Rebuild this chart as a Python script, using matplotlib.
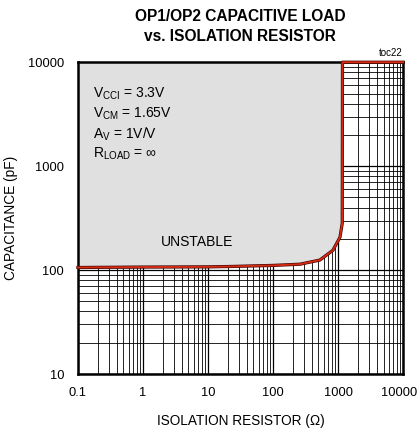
import matplotlib
matplotlib.use('Agg')
import matplotlib.pyplot as plt
import matplotlib.ticker as ticker
import matplotlib.transforms as mtransforms

plt.rcParams['font.family'] = ['Liberation Sans', 'DejaVu Sans']
plt.rcParams['mathtext.fontset'] = 'custom'
plt.rcParams['mathtext.rm'] = 'Liberation Sans'

# stability boundary
r_iso = [0.1, 1, 10, 24, 100, 260, 525, 832, 1070, 1160, 1170, 10000]
c_load = [106, 107, 107.5, 108.5, 111, 114, 125, 155, 207, 282, 10000, 10000]

x_ticks = [0.1, 1, 10, 100, 1000, 10000]
x_labels = ['0.1', '1', '10', '100', '1000', '10000']
y_ticks = [10, 100, 1000, 10000]
y_labels = ['10', '100', '1000', '10000']

fig = plt.figure(figsize=(4.19, 4.29), dpi=100)
ax = fig.add_axes([0.186, 0.128, 0.776, 0.727])
ax.set_xscale('log')
ax.set_yscale('log')
ax.set_xlim(0.1, 10000)
ax.set_ylim(10, 10000)

ax.set_xticks(x_ticks)
ax.set_xticklabels(x_labels)
ax.set_yticks(y_ticks)
ax.set_yticklabels(y_labels)
ax.xaxis.set_minor_locator(ticker.LogLocator(base=10, subs=range(2, 10)))
ax.yaxis.set_minor_locator(ticker.LogLocator(base=10, subs=range(2, 10)))
ax.xaxis.set_minor_formatter(ticker.NullFormatter())
ax.yaxis.set_minor_formatter(ticker.NullFormatter())
ax.tick_params(which='both', length=0, labelsize=9.3)
ax.tick_params(axis='x', pad=9)
ax.tick_params(axis='y', pad=10)

# keep the last x label inside the figure
last = ax.get_xticklabels()[-1]
last.set_transform(last.get_transform() + mtransforms.ScaledTranslation(-4 / 100, 0, fig.dpi_scale_trans))

ax.grid(which='major', color='black', lw=0.9, zorder=1)
ax.grid(which='minor', color='black', lw=0.6, zorder=1)
ax.set_axisbelow(True)

# unstable region
ax.fill_between(r_iso, c_load, 10000, color='#e0e0e0', lw=0, zorder=2)
ax.plot(r_iso, c_load, color='#3a0000', lw=2.3, zorder=3, clip_on=False)
ax.plot(r_iso, c_load, color='#d42a12', lw=1.4, zorder=4, clip_on=False)

for s in ax.spines.values():
    s.set_linewidth(1.8)
    s.set_color('black')
    s.set_zorder(2.5)

fs = 10
ax.text(0.045, 0.9, r'V$_{\mathregular{CCI}}$ = 3.3V', transform=ax.transAxes, fontsize=fs, va='center')
ax.text(0.045, 0.835, r'V$_{\mathregular{CM}}$ = 1.65V', transform=ax.transAxes, fontsize=fs, va='center')
ax.text(0.045, 0.77, r'A$_{\mathregular{V}}$ = 1V/V', transform=ax.transAxes, fontsize=fs, va='center')
ax.text(0.045, 0.705, r'R$_{\mathregular{LOAD}}$ = $\infty$', transform=ax.transAxes, fontsize=fs, va='center')
ax.text(0.367, 0.425, 'UNSTABLE', transform=ax.transAxes, fontsize=fs, ha='center', va='center')
ax.text(1.0, 1.012, 'toc22', transform=ax.transAxes, fontsize=7, ha='right', va='bottom')

ax.set_xlabel('ISOLATION RESISTOR (\u03a9)', fontsize=9.8, labelpad=11)
ax.set_ylabel('CAPACITANCE (pF)', fontsize=9.8, labelpad=7)
fig.text(0.573, 0.978, 'OP1/OP2 CAPACITIVE LOAD\nvs. ISOLATION RESISTOR', fontsize=11.2,
         fontweight='bold', ha='center', va='top', linespacing=1.4)

fig.savefig('out.png', dpi=100)
